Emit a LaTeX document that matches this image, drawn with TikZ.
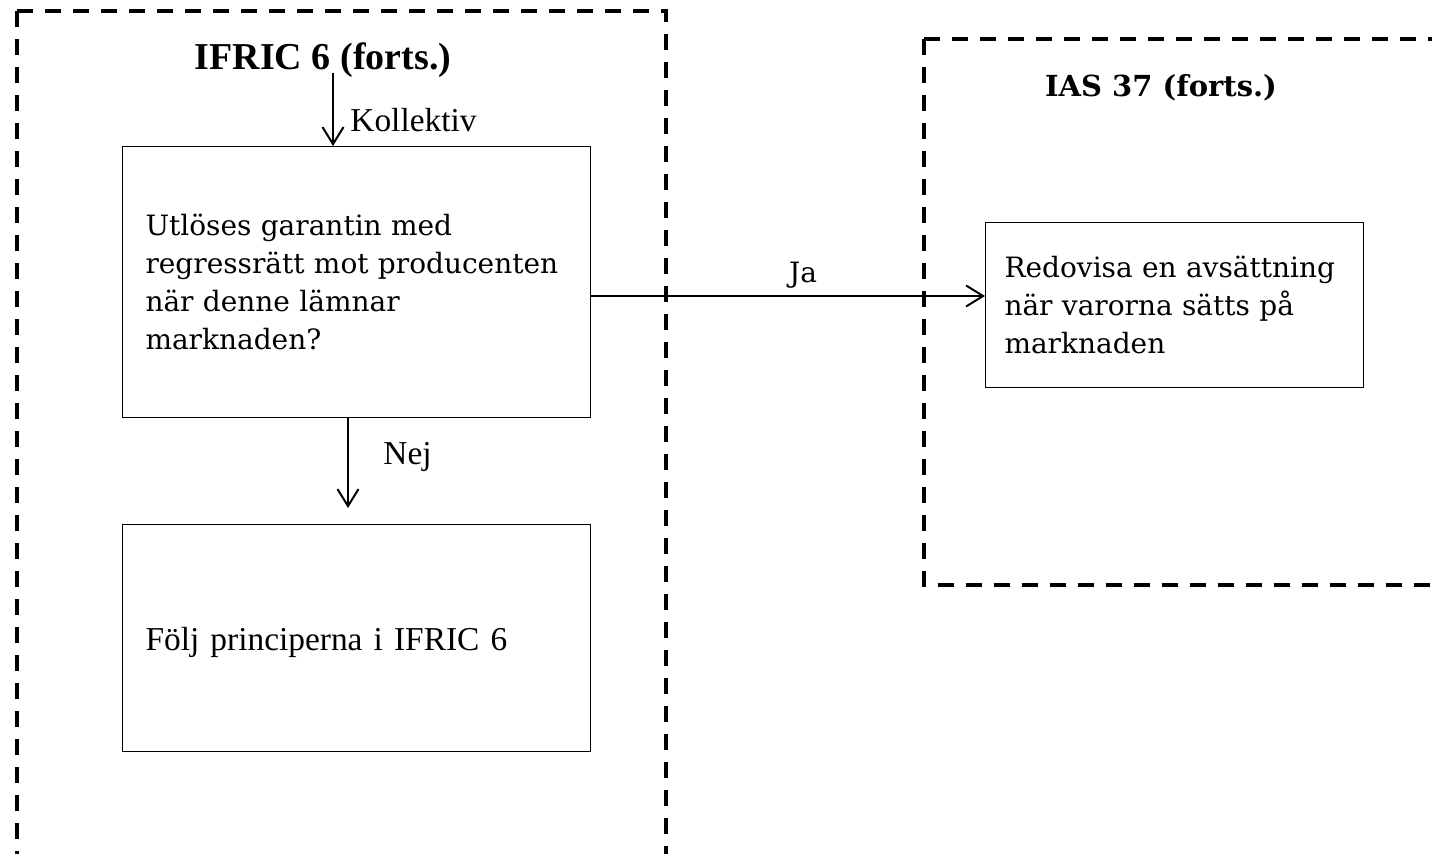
\documentclass[tikz,border=0pt]{standalone}
\usepackage{fontspec}
\setmainfont{Liberation Serif}
\newfontfamily\geo{DejaVu Serif}
\usetikzlibrary{arrows.meta}
\begin{document}
\begin{tikzpicture}[x=0.5pt,y=-0.5pt,
  frame/.style={line width=2pt, dash pattern=on 8pt off 6pt},
  boxnode/.style={draw=black, line width=0.5pt, anchor=north west, align=left, inner ysep=0pt},
  geofont/.style={font=\geo\fontsize{14}{19}\selectfont},
  timesfont/.style={font=\fontsize{16.7}{20}\selectfont},
  lbl/.style={inner sep=0pt},
  arr/.style={line width=1pt, -{Straight Barb[length=8.5pt,width=10.5pt,line width=1pt]}}]
\useasboundingbox (0,0) rectangle (1432,854);
% dashed frames
\draw[frame] (17,11) -- (17,880);
\draw[frame] (17,11) -- (666,11) -- (666,880);
\draw[frame] (924,39) -- (1450,39);
\draw[frame] (924,39) -- (924,585) -- (1450,585);
% titles
\node[lbl, anchor=base, font=\bfseries\fontsize{19}{23}\selectfont] (t1) at (323,70) {IFRIC 6 (forts.)};
\node[lbl, anchor=base, font=\geo\bfseries\fontsize{14.5}{18}\selectfont] (t2) at (1161,97) {IAS 37 (forts.)};
% boxes
\node[boxnode, geofont, text width=211pt, inner xsep=11.5pt, minimum height=135.5pt] (q) at (122,146)
  {Utlöses garantin med\\regressrätt mot producenten\\när denne lämnar\\marknaden?};
\node[boxnode, timesfont, text width=211pt, inner xsep=11.5pt, minimum height=113.5pt, text height=16pt, text depth=3.6pt] (f) at (122,524)
  {Följ principerna i IFRIC 6};
\node[boxnode, geofont, text width=170pt, inner xsep=9.5pt, minimum height=82.5pt] (r) at (985,222)
  {Redovisa en avsättning\\när varorna sätts på\\marknaden};
% labels
\node[lbl, anchor=base west, timesfont] (kol) at (350,132) {Kollektiv};
\node[lbl, anchor=base west, timesfont] (nej) at (383,465) {Nej};
\node[lbl, anchor=base, geofont] (ja) at (803,283) {Ja};
% connectors
\coordinate (a1) at (333,73);
\draw[arr] (a1) -- (a1 |- q.north);
\coordinate (a2) at (348,508);
\draw[arr] (q.south -| a2) -- (a2);
\coordinate (jy) at (0,296);
\draw[arr] (q.east |- jy) -- (r.west |- jy);
\end{tikzpicture}
\end{document}
